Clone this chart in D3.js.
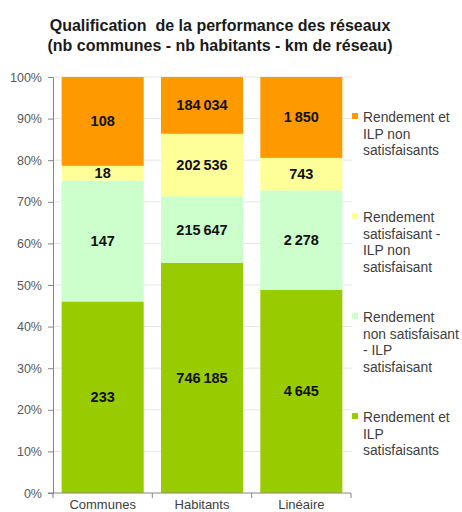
<!DOCTYPE html>
<html><head><meta charset="utf-8">
<script src="https://cdn.jsdelivr.net/npm/d3@7"></script>
<style>body{margin:0;background:#fff;} svg{display:block;font-family:"Liberation Sans",Arial,sans-serif;}</style>
</head><body>
<svg id="c" width="462" height="512"></svg>
<script>
const titleLines = ["Qualification  de la performance des réseaux", "(nb communes - nb habitants - km de réseau)"];
const categories = ["Communes", "Habitants", "Linéaire"];
const seriesKeys = ["sat", "rnsIlps", "rsIlpns", "ns"];
const seriesLegend = [
  ["Rendement et", "ILP", "satisfaisants"],
  ["Rendement", "non satisfaisant", "- ILP", "satisfaisant"],
  ["Rendement", "satisfaisant -", "ILP non", "satisfaisant"],
  ["Rendement et", "ILP non", "satisfaisants"]
];
const seriesColors = ["#99CC00", "#CCFFCC", "#FFFF99", "#FF9900"];
const valuesSat     = [233, 746185, 4645];
const valuesRnsIlps = [147, 215647, 2278];
const valuesRsIlpns = [18, 202536, 743];
const valuesNs      = [108, 184034, 1850];
const yTicks = [0, 0.1, 0.2, 0.3, 0.4, 0.5, 0.6, 0.7, 0.8, 0.9, 1];

const seriesValues = [valuesSat, valuesRnsIlps, valuesRsIlpns, valuesNs];
const rows = categories.map((c, i) => {
  const r = {cat: c};
  seriesKeys.forEach((k, j) => r[k] = seriesValues[j][i]);
  return r;
});
const stacked = d3.stack().keys(seriesKeys).offset(d3.stackOffsetExpand)(rows);

const svg = d3.select("#c");
const x = d3.scaleBand().domain(categories).range([53, 351]).paddingInner(0.174).paddingOuter(0.087);
const y = d3.scaleLinear().domain([0, 1]).range([493, 77]);
const loc = d3.formatLocale({decimal: ",", thousands: "\u2009", grouping: [3], currency: ["", "€"]});
const fmt = loc.format(",d");

// title
svg.append("g").selectAll("text").data(titleLines).join("text")
  .attr("x", 220).attr("y", (d, i) => 31 + i * 20)
  .attr("text-anchor", "middle").attr("font-weight", "bold").attr("font-size", 16)
  .attr("fill", "#1a1a1a").style("white-space", "pre").text(d => d);

// gridlines
svg.append("g").selectAll("line").data(yTicks.slice(1)).join("line")
  .attr("x1", 53).attr("x2", 352).attr("y1", d => y(d)).attr("y2", d => y(d))
  .attr("stroke", "#e6e6e6").attr("stroke-width", 1);

// bars
const g = svg.append("g");
stacked.forEach((s, j) => {
  g.append("g").attr("fill", seriesColors[j]).selectAll("rect").data(s).join("rect")
    .attr("x", d => x(d.data.cat)).attr("width", x.bandwidth())
    .attr("y", d => y(d[1])).attr("height", d => y(d[0]) - y(d[1]));
  g.append("g").selectAll("text").data(s).join("text")
    .attr("x", d => x(d.data.cat) + x.bandwidth() / 2)
    .attr("y", d => (y(d[0]) + y(d[1])) / 2 + 5)
    .attr("text-anchor", "middle").attr("font-weight", "bold").attr("font-size", 14.5)
    .attr("fill", "#111").text(d => fmt(d.data[seriesKeys[j]]));
});

// y axis
const yAxis = d3.axisLeft(y).tickValues(yTicks).tickFormat(d3.format(".0%")).tickSize(5).tickPadding(6);
const ya = svg.append("g").attr("transform", "translate(53,0)").call(yAxis);
ya.select(".domain").attr("stroke", "#868686");
ya.selectAll(".tick line").attr("stroke", "#868686");
ya.selectAll(".tick text").attr("fill", "#595959").attr("font-size", 12.5)
  .attr("font-family", "Liberation Sans, Arial, sans-serif");

// x axis
const xa = svg.append("g").attr("transform", "translate(0,493)");
xa.append("line").attr("x1", 48).attr("x2", 351).attr("stroke", "#868686");
const edges = [53, ...categories.map((c, i) => 53 + x.step() * (i + 1))];
xa.selectAll("line.t").data(edges).join("line").attr("class", "t")
  .attr("x1", d => d).attr("x2", d => d).attr("y1", 0).attr("y2", 5).attr("stroke", "#868686");
xa.selectAll("text").data(categories).join("text")
  .attr("x", d => x(d) + x.bandwidth() / 2).attr("y", 16)
  .attr("text-anchor", "middle").attr("font-size", 13).attr("fill", "#404040").text(d => d);

// legend
const legendOrder = [3, 2, 1, 0];
const lg = svg.append("g");
legendOrder.forEach((j, i) => {
  const by = 122 + i * 100;
  lg.append("rect").attr("x", 352).attr("y", by - 9).attr("width", 6).attr("height", 6).attr("fill", seriesColors[j]);
  lg.append("g").selectAll("text").data(seriesLegend[j]).join("text")
    .attr("x", 363).attr("y", (d, k) => by + k * 16.7)
    .attr("font-size", 13.8).attr("fill", "#404040").text(d => d);
});
</script>
</body></html>
